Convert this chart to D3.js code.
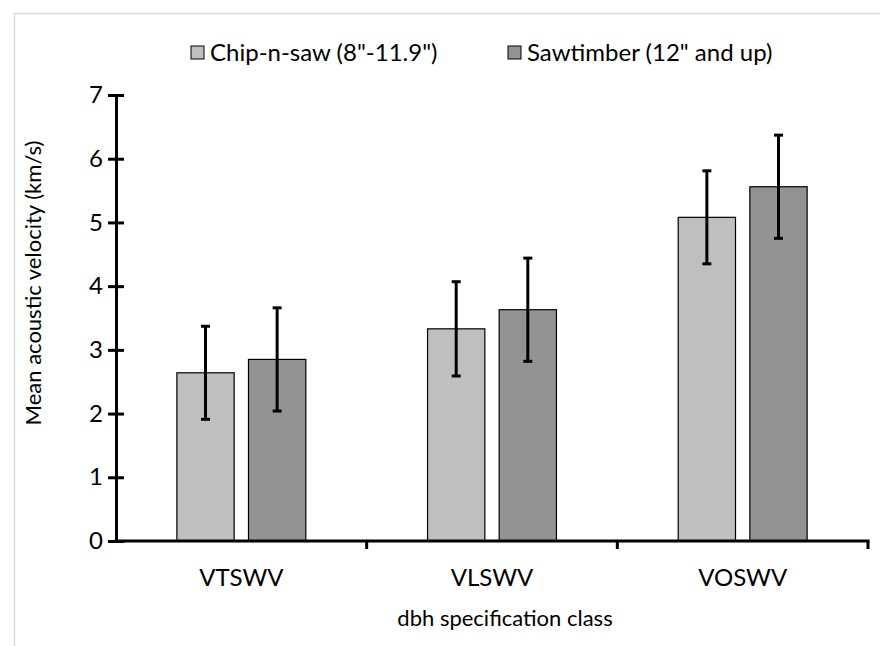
<!DOCTYPE html>
<html>
<head>
<meta charset="utf-8">
<script src="https://cdn.jsdelivr.net/npm/d3@7"></script>
<style>
  html, body { margin: 0; padding: 0; background: #fff; }
  svg { display: block; }
  text { font-family: Lato, "Open Sans", sans-serif; fill: #000; }
</style>
</head>
<body>
<svg id="chart" width="880" height="646"></svg>
<script>
// ---- data ----
const categories = ["VTSWV", "VLSWV", "VOSWV"];
const seriesNames = ["Chip-n-saw (8\"-11.9\")", "Sawtimber (12\" and up)"];
const chipValues = [2.64, 3.33, 5.08];
const chipErrors = [0.73, 0.74, 0.73];
const sawValues = [2.85, 3.63, 5.56];
const sawErrors = [0.81, 0.81, 0.81];
const yTicks = [0, 1, 2, 3, 4, 5, 6, 7];
const seriesColors = ["#bfbfbf", "#939393"];
const xTitle = "dbh specification class";
const yTitle = "Mean acoustic velocity (km/s)";

// ---- layout ----
const W = 880, H = 646;
const plot = { left: 116, right: 868, top: 95, bottom: 541 };
const tickFont = 24;
const titleFont = 22;
const legendFont = 24;

const svg = d3.select("#chart");

// chart border (light grey frame)
svg.append("rect")
  .attr("x", 14.5).attr("y", 13.5)
  .attr("width", W + 40).attr("height", H + 40)
  .attr("fill", "none").attr("stroke", "#d9d9d9").attr("stroke-width", 1.5);

const x = d3.scaleBand().domain(categories).range([plot.left, plot.right]).paddingInner(0).paddingOuter(0);
const y = d3.scaleLinear().domain([0, 7]).range([plot.bottom, plot.top]);

const step = x.step();
const bw = step / 4.375;          // bar width
const gap = 0.25 * bw;            // gap between bars in a group
const groupW = 2 * bw + gap;
const offset = (step - groupW) / 2;

const series = [
  { name: seriesNames[0], values: chipValues, errors: chipErrors, color: seriesColors[0] },
  { name: seriesNames[1], values: sawValues, errors: sawErrors, color: seriesColors[1] }
];

// bars
series.forEach((s, si) => {
  const g = svg.append("g");
  g.selectAll("rect")
    .data(categories.map((c, i) => ({ c, v: s.values[i], e: s.errors[i] })))
    .join("rect")
    .attr("x", d => x(d.c) + offset + si * (bw + gap))
    .attr("y", d => y(d.v))
    .attr("width", bw)
    .attr("height", d => y(0) - y(d.v))
    .attr("fill", s.color)
    .attr("stroke", "#000")
    .attr("stroke-width", 1.2);
});

// error bars
series.forEach((s, si) => {
  const data = categories.map((c, i) => ({ c, v: s.values[i], e: s.errors[i] }));
  const cx = d => x(d.c) + offset + si * (bw + gap) + bw / 2;
  const g = svg.append("g").attr("stroke", "#000").attr("stroke-width", 3);
  g.selectAll("line.v").data(data).join("line").attr("class", "v")
    .attr("x1", cx).attr("x2", cx)
    .attr("y1", d => y(d.v + d.e)).attr("y2", d => y(d.v - d.e));
  g.selectAll("line.t").data(data).join("line").attr("class", "t")
    .attr("x1", d => cx(d) - 4.5).attr("x2", d => cx(d) + 4.5)
    .attr("y1", d => y(d.v + d.e)).attr("y2", d => y(d.v + d.e));
  g.selectAll("line.b").data(data).join("line").attr("class", "b")
    .attr("x1", d => cx(d) - 4.5).attr("x2", d => cx(d) + 4.5)
    .attr("y1", d => y(d.v - d.e)).attr("y2", d => y(d.v - d.e));
});

// y axis
const yAxis = svg.append("g")
  .attr("transform", `translate(${plot.left},0)`)
  .call(d3.axisLeft(y).tickValues(yTicks).tickFormat(d3.format("d")).tickSize(8).tickSizeOuter(0).tickPadding(5));
yAxis.select(".domain").attr("stroke", "#000").attr("stroke-width", 3);
yAxis.selectAll(".tick line").attr("x1", 8).attr("x2", -8).attr("stroke", "#000").attr("stroke-width", 3);
yAxis.selectAll(".tick text").attr("font-size", tickFont).attr("font-family", "Lato, sans-serif").attr("fill", "#000");

// x axis
const xAxis = svg.append("g")
  .attr("transform", `translate(0,${plot.bottom})`)
  .call(d3.axisBottom(x).tickSize(0).tickSizeOuter(0).tickPadding(28));
xAxis.select(".domain").attr("stroke", "#000").attr("stroke-width", 3)
  .attr("d", `M${plot.left - 1.5},0H${plot.right + 1.5}`);
xAxis.selectAll(".tick text").attr("font-size", tickFont).attr("font-family", "Lato, sans-serif").attr("fill", "#000");
// category boundary ticks
svg.append("g").attr("stroke", "#000").attr("stroke-width", 3)
  .selectAll("line").data(categories)
  .join("line")
  .attr("x1", c => x(c) + step).attr("x2", c => x(c) + step)
  .attr("y1", plot.bottom).attr("y2", plot.bottom + 8);

// axis titles
svg.append("text")
  .attr("x", 505).attr("y", 626)
  .attr("text-anchor", "middle").attr("font-size", titleFont)
  .text(xTitle);
svg.append("text")
  .attr("transform", `translate(41,283) rotate(-90)`)
  .attr("text-anchor", "middle").attr("font-size", titleFont)
  .text(yTitle);

// legend
const legend = svg.append("g");
const legendX = [191, 508];
series.forEach((s, si) => {
  const g = legend.append("g").attr("transform", `translate(${legendX[si]},53)`);
  g.append("rect").attr("x", 0).attr("y", -7).attr("width", 13).attr("height", 13)
    .attr("fill", s.color).attr("stroke", "#000").attr("stroke-width", 1);
  g.append("text").attr("x", 19).attr("y", 0).attr("dy", "0.35em")
    .attr("font-size", legendFont).text(s.name);
});
</script>
</body>
</html>
